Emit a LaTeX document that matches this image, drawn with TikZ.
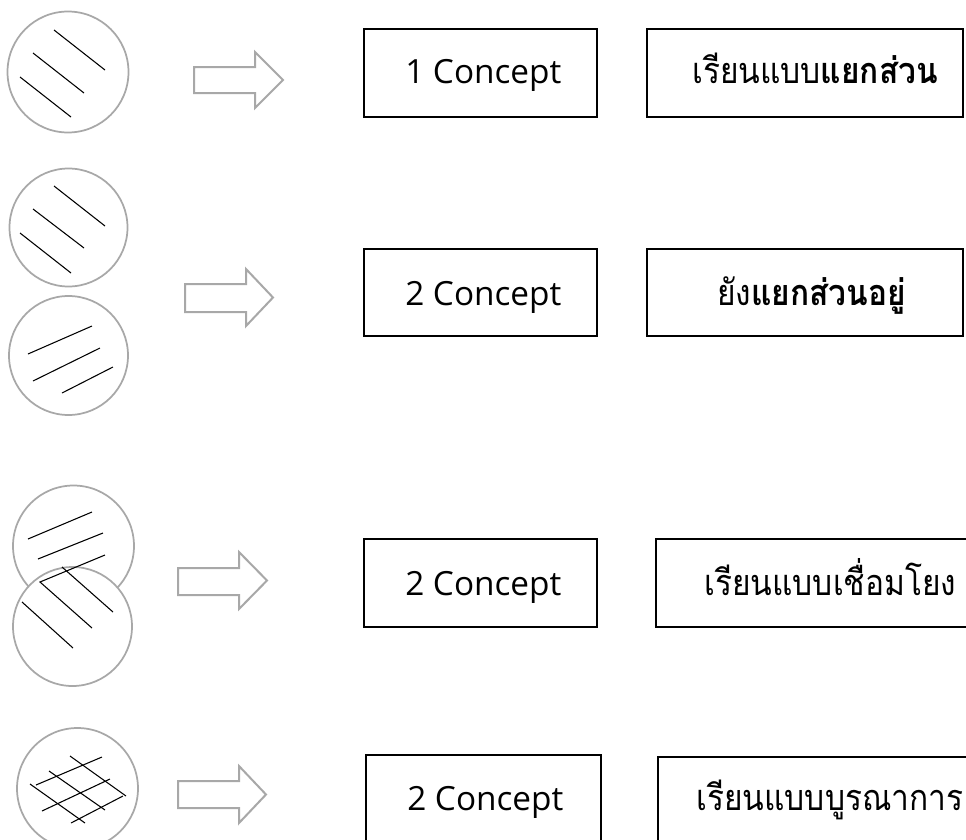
\documentclass[tikz,border=0pt]{standalone}
\usepackage{fontspec}
\setmainfont{Open Sans}
\newfontfamily\thaifont[Script=Thai, FakeStretch=0.88]{Loma}
\usetikzlibrary{calc}
\definecolor{ringgray}{RGB}{168,168,168}
\definecolor{arrgray}{RGB}{168,168,168}
\tikzset{
  box/.style={draw=black, line width=1.5pt, rectangle, inner sep=0pt},
  ring/.style={draw=ringgray, circle, line width=1.3pt, fill=white, inner sep=0pt},
  hatch/.style={draw=black, line width=0.8pt},
  blockarrow/.style={draw=arrgray, line width=1.5pt, line join=miter},
  lat/.style={font=\fontsize{25}{30}\selectfont, anchor=base west, inner sep=0pt},
  tha/.style={font=\thaifont\fontsize{27}{32}\selectfont, anchor=base west, inner sep=0pt},
}
\newcommand{\blkarrow}[7]{%
  \draw[blockarrow] (#1,#4) -- (#2,#4) -- (#2,#6) -- (#3,{(#6+#7)/2}) -- (#2,#7) -- (#2,#5) -- (#1,#5) -- cycle;}
\begin{document}
\begin{tikzpicture}[x=0.75pt,y=-0.75pt]
\useasboundingbox (0,0) rectangle (966,839);
\fill[white] (0,0) rectangle (966,839);

% ---------- Row 1 ----------
\node[ring, minimum size=90.75pt] (c1) at (68,72) {};
\draw[hatch] (54,30) -- (105,70);
\draw[hatch] (33,53) -- (84,93);
\draw[hatch] (20,77) -- (71,117);
\blkarrow{194}{255}{283}{67}{93}{52}{108}
\node[box, minimum width=174.75pt, minimum height=66pt] (b11) at (480.5,73) {};
\node[lat] (t11) at (405,83) {1 Concept};
\node[box, minimum width=237pt, minimum height=66pt] (b12) at (805,73) {};
\node[tha] (t12) at (692,83) {เรียนแบบ\textbf{แยกส่วน}};

% ---------- Row 2 ----------
\node[ring, minimum size=88.5pt] (c2a) at (68.5,227.5) {};
\draw[hatch] (54,186) -- (105,226);
\draw[hatch] (33,209) -- (84,248);
\draw[hatch] (20,233) -- (71,273);
\node[ring, minimum size=89.25pt] (c2b) at (68.5,355.5) {};
\draw[hatch] (28,354) -- (92,326);
\draw[hatch] (33,381) -- (100,348);
\draw[hatch] (62,393) -- (113,367);
\blkarrow{185}{246}{273}{284}{312}{269}{326}
\node[box, minimum width=174.75pt, minimum height=65.25pt] (b21) at (480.5,292.5) {};
\node[lat] (t21) at (405,305) {2 Concept};
\node[box, minimum width=237pt, minimum height=65.25pt] (b22) at (805,292.5) {};
\node[tha] (t22) at (717,305) {ยัง\textbf{แยกส่วนอยู่}};

% ---------- Row 3 ----------
\node[ring, minimum size=90.75pt] (c3a) at (73.5,546) {};
\node[ring, minimum size=89.25pt] (c3b) at (72.5,626.5) {};
\draw[hatch] (28,539) -- (92,512);
\draw[hatch] (38,559) -- (103,533);
\draw[hatch] (105,555) -- (40,582) -- (92,628);
\draw[hatch] (62,567) -- (113,612);
\draw[hatch] (22,602) -- (73,648);
\blkarrow{178}{239}{267}{568}{595}{552}{609}
\node[box, minimum width=174.75pt, minimum height=66pt] (b31) at (480.5,583) {};
\node[lat] (t31) at (405,595) {2 Concept};
\node[box, minimum width=239.25pt, minimum height=66pt] (b32) at (815.5,583) {};
\node[tha] (t32) at (704,595) {เรียนแบบเชื่อมโยง};

% ---------- Row 4 ----------
\node[ring, minimum size=90.75pt] (c4) at (77.5,788.5) {};
\draw[hatch] (70,756) -- (126,796);
\draw[hatch] (49,771) -- (105,810);
\draw[hatch] (30,784) -- (85,823);
\draw[hatch] (36,785) -- (102,757);
\draw[hatch] (42,811) -- (110,779);
\draw[hatch] (71,823) -- (123,796);
\blkarrow{178}{239}{266}{781}{808}{766}{823}
\node[box, minimum width=176.25pt, minimum height=67.5pt] (b41) at (483.5,800) {};
\node[lat] (t41) at (407,810) {2 Concept};
\node[box, minimum width=237.75pt, minimum height=66pt] (b42) at (816.5,801) {};
\node[tha] (t42) at (696,810) {เรียนแบบบูรณาการ};
\end{tikzpicture}
\end{document}
